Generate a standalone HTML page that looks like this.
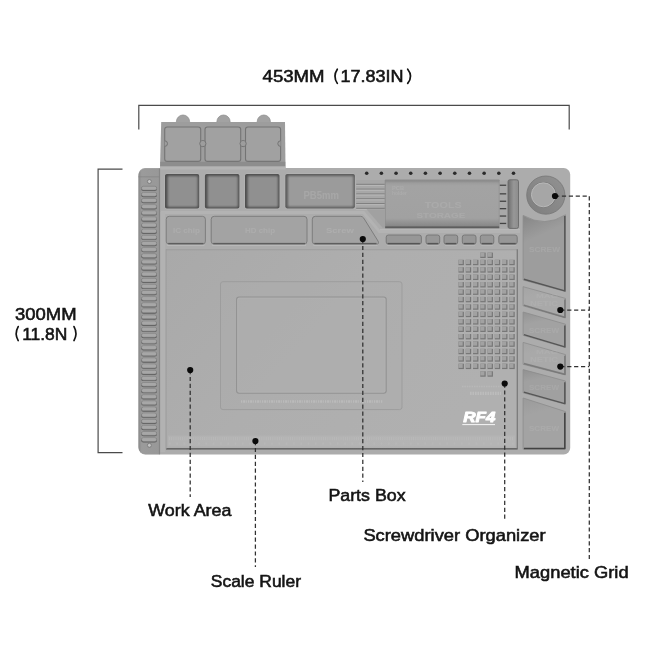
<!DOCTYPE html>
<html><head><meta charset="utf-8"><title>Mat diagram</title>
<style>
html,body{margin:0;padding:0;background:#fff;}
body{width:650px;height:650px;overflow:hidden;font-family:"Liberation Sans",sans-serif;}
svg{display:block;}
</style></head><body>
<svg width="650" height="650" viewBox="0 0 650 650" style="opacity:0.999">
<defs>
<linearGradient id="gBox" x1="0" y1="0" x2="0" y2="1"><stop offset="0" stop-color="#7c7c7c"/><stop offset="0.18" stop-color="#8a8a8a"/><stop offset="1" stop-color="#8f8f8f"/></linearGradient>
<linearGradient id="gWork" x1="0" y1="0" x2="1" y2="0.5"><stop offset="0" stop-color="#a9a9a9"/><stop offset="0.5" stop-color="#aeaeae"/><stop offset="1" stop-color="#b0b0b0"/></linearGradient>
<linearGradient id="gSlotD" x1="0" y1="0" x2="0" y2="1"><stop offset="0" stop-color="#8b8b8b"/><stop offset="0.2" stop-color="#989898"/><stop offset="1" stop-color="#a5a5a5"/></linearGradient>
<linearGradient id="gSlotL" x1="0" y1="0" x2="0" y2="1"><stop offset="0" stop-color="#a0a0a0"/><stop offset="1" stop-color="#aaaaaa"/></linearGradient>
<linearGradient id="gStrip" x1="0" y1="0" x2="1" y2="0"><stop offset="0" stop-color="#888888"/><stop offset="0.15" stop-color="#9b9b9b"/><stop offset="1" stop-color="#989898"/></linearGradient>
<filter id="blur0" x="-5%" y="-20%" width="110%" height="140%"><feGaussianBlur stdDeviation="0.45"/></filter>
<filter id="blur1" x="-10%" y="-10%" width="120%" height="120%"><feGaussianBlur stdDeviation="1.0"/></filter>
<linearGradient id="gNarrow" x1="0" y1="0" x2="1" y2="0"><stop offset="0" stop-color="#6e6e6e"/><stop offset="0.55" stop-color="#979797"/><stop offset="1" stop-color="#8c8c8c"/></linearGradient>
<linearGradient id="gRing" x1="1" y1="0" x2="0" y2="1"><stop offset="0" stop-color="#929292"/><stop offset="1" stop-color="#7e7e7e"/></linearGradient>
<linearGradient id="gTray" x1="0" y1="0" x2="0" y2="1"><stop offset="0" stop-color="#959595"/><stop offset="0.12" stop-color="#a3a3a3"/><stop offset="0.8" stop-color="#a1a1a1"/><stop offset="1" stop-color="#828282"/></linearGradient>
</defs>
<rect width="650" height="650" fill="#ffffff"/>
<polyline points="138.8,129.6 138.8,105.4 569.2,105.4 569.2,129.6" fill="none" stroke="#4a4a4a" stroke-width="1.2"/>
<polyline points="122.5,169.1 98.1,169.1 98.1,452.6 122.5,452.6" fill="none" stroke="#4a4a4a" stroke-width="1.2"/>
<circle cx="183.0" cy="121.6" r="6.6" fill="#a2a2a2" stroke="#8a8a8a" stroke-width="0.7"/>
<circle cx="223.5" cy="121.6" r="6.6" fill="#a2a2a2" stroke="#8a8a8a" stroke-width="0.7"/>
<circle cx="263.8" cy="121.6" r="6.6" fill="#a2a2a2" stroke="#8a8a8a" stroke-width="0.7"/>
<path d="M161.2,122 L285,122 L285.5,168 L160,168 Z" fill="#9d9d9d"/>
<rect x="164.7" y="127" width="36.0" height="34.4" rx="2.5" fill="#a1a1a1" stroke="#747474" stroke-width="1.1"/>
<rect x="205.0" y="127" width="35.7" height="34.4" rx="2.5" fill="#a1a1a1" stroke="#747474" stroke-width="1.1"/>
<rect x="245.5" y="127" width="35.1" height="34.4" rx="2.5" fill="#a1a1a1" stroke="#747474" stroke-width="1.1"/>
<circle cx="202.85" cy="143.6" r="3.1" fill="#9d9d9d" stroke="#747474" stroke-width="1"/>
<rect x="201.45" y="141.3" width="2.8" height="4.6" fill="#9d9d9d"/>
<circle cx="243.1" cy="143.6" r="3.1" fill="#9d9d9d" stroke="#747474" stroke-width="1"/>
<rect x="241.7" y="141.3" width="2.8" height="4.6" fill="#9d9d9d"/>
<path d="M164.7,140.8 a2.8,2.8 0 0 1 0,5.6 M280.6,140.8 a2.8,2.8 0 0 0 0,5.6" fill="#9d9d9d" stroke="#747474" stroke-width="1"/>
<rect x="160.2" y="161.8" width="125.2" height="4.4" fill="#868686" opacity="0.7"/>
<rect x="138.5" y="168" width="431.7" height="286.5" rx="6.5" fill="#acacac"/>
<rect x="160" y="166.4" width="125.5" height="3.2" fill="#b4b4b4"/>
<path d="M145.5,168.5 H159.5 V454.3 H145.5 a7,7 0 0 1 -7,-7 V175.5 a7,7 0 0 1 7,-7 Z" fill="url(#gStrip)"/>
<rect x="158.9" y="168.5" width="1.2" height="285.8" fill="#868686"/>
<rect x="138.5" y="176.3" width="21" height="1" fill="#868686" opacity="0.8"/>
<rect x="141.2" y="186.60" width="15.8" height="4.4" rx="2.2" fill="#5e5e5e"/>
<rect x="141.5" y="186.20" width="15.2" height="3.9" rx="1.95" fill="#a7a7a7" stroke="#7d7d7d" stroke-width="0.5"/>
<rect x="141.2" y="192.73" width="15.8" height="4.4" rx="2.2" fill="#5e5e5e"/>
<rect x="141.5" y="192.33" width="15.2" height="3.9" rx="1.95" fill="#a7a7a7" stroke="#7d7d7d" stroke-width="0.5"/>
<rect x="141.2" y="198.86" width="15.8" height="4.4" rx="2.2" fill="#5e5e5e"/>
<rect x="141.5" y="198.46" width="15.2" height="3.9" rx="1.95" fill="#a7a7a7" stroke="#7d7d7d" stroke-width="0.5"/>
<rect x="141.2" y="205.00" width="15.8" height="4.4" rx="2.2" fill="#5e5e5e"/>
<rect x="141.5" y="204.60" width="15.2" height="3.9" rx="1.95" fill="#a7a7a7" stroke="#7d7d7d" stroke-width="0.5"/>
<rect x="141.2" y="211.13" width="15.8" height="4.4" rx="2.2" fill="#5e5e5e"/>
<rect x="141.5" y="210.73" width="15.2" height="3.9" rx="1.95" fill="#a7a7a7" stroke="#7d7d7d" stroke-width="0.5"/>
<rect x="141.2" y="217.26" width="15.8" height="4.4" rx="2.2" fill="#5e5e5e"/>
<rect x="141.5" y="216.86" width="15.2" height="3.9" rx="1.95" fill="#a7a7a7" stroke="#7d7d7d" stroke-width="0.5"/>
<rect x="141.2" y="223.39" width="15.8" height="4.4" rx="2.2" fill="#5e5e5e"/>
<rect x="141.5" y="222.99" width="15.2" height="3.9" rx="1.95" fill="#a7a7a7" stroke="#7d7d7d" stroke-width="0.5"/>
<rect x="141.2" y="229.52" width="15.8" height="4.4" rx="2.2" fill="#5e5e5e"/>
<rect x="141.5" y="229.12" width="15.2" height="3.9" rx="1.95" fill="#a7a7a7" stroke="#7d7d7d" stroke-width="0.5"/>
<rect x="141.2" y="235.65" width="15.8" height="4.4" rx="2.2" fill="#5e5e5e"/>
<rect x="141.5" y="235.25" width="15.2" height="3.9" rx="1.95" fill="#a7a7a7" stroke="#7d7d7d" stroke-width="0.5"/>
<rect x="141.2" y="241.79" width="15.8" height="4.4" rx="2.2" fill="#5e5e5e"/>
<rect x="141.5" y="241.39" width="15.2" height="3.9" rx="1.95" fill="#a7a7a7" stroke="#7d7d7d" stroke-width="0.5"/>
<rect x="141.2" y="247.92" width="15.8" height="4.4" rx="2.2" fill="#5e5e5e"/>
<rect x="141.5" y="247.52" width="15.2" height="3.9" rx="1.95" fill="#a7a7a7" stroke="#7d7d7d" stroke-width="0.5"/>
<rect x="141.2" y="254.05" width="15.8" height="4.4" rx="2.2" fill="#5e5e5e"/>
<rect x="141.5" y="253.65" width="15.2" height="3.9" rx="1.95" fill="#a7a7a7" stroke="#7d7d7d" stroke-width="0.5"/>
<rect x="141.2" y="260.18" width="15.8" height="4.4" rx="2.2" fill="#5e5e5e"/>
<rect x="141.5" y="259.78" width="15.2" height="3.9" rx="1.95" fill="#a7a7a7" stroke="#7d7d7d" stroke-width="0.5"/>
<rect x="141.2" y="266.31" width="15.8" height="4.4" rx="2.2" fill="#5e5e5e"/>
<rect x="141.5" y="265.91" width="15.2" height="3.9" rx="1.95" fill="#a7a7a7" stroke="#7d7d7d" stroke-width="0.5"/>
<rect x="141.2" y="272.44" width="15.8" height="4.4" rx="2.2" fill="#5e5e5e"/>
<rect x="141.5" y="272.04" width="15.2" height="3.9" rx="1.95" fill="#a7a7a7" stroke="#7d7d7d" stroke-width="0.5"/>
<rect x="141.2" y="278.58" width="15.8" height="4.4" rx="2.2" fill="#5e5e5e"/>
<rect x="141.5" y="278.18" width="15.2" height="3.9" rx="1.95" fill="#a7a7a7" stroke="#7d7d7d" stroke-width="0.5"/>
<rect x="141.2" y="284.71" width="15.8" height="4.4" rx="2.2" fill="#5e5e5e"/>
<rect x="141.5" y="284.31" width="15.2" height="3.9" rx="1.95" fill="#a7a7a7" stroke="#7d7d7d" stroke-width="0.5"/>
<rect x="141.2" y="290.84" width="15.8" height="4.4" rx="2.2" fill="#5e5e5e"/>
<rect x="141.5" y="290.44" width="15.2" height="3.9" rx="1.95" fill="#a7a7a7" stroke="#7d7d7d" stroke-width="0.5"/>
<rect x="141.2" y="296.97" width="15.8" height="4.4" rx="2.2" fill="#5e5e5e"/>
<rect x="141.5" y="296.57" width="15.2" height="3.9" rx="1.95" fill="#a7a7a7" stroke="#7d7d7d" stroke-width="0.5"/>
<rect x="141.2" y="303.10" width="15.8" height="4.4" rx="2.2" fill="#5e5e5e"/>
<rect x="141.5" y="302.70" width="15.2" height="3.9" rx="1.95" fill="#a7a7a7" stroke="#7d7d7d" stroke-width="0.5"/>
<rect x="141.2" y="309.23" width="15.8" height="4.4" rx="2.2" fill="#5e5e5e"/>
<rect x="141.5" y="308.83" width="15.2" height="3.9" rx="1.95" fill="#a7a7a7" stroke="#7d7d7d" stroke-width="0.5"/>
<rect x="141.2" y="315.37" width="15.8" height="4.4" rx="2.2" fill="#5e5e5e"/>
<rect x="141.5" y="314.97" width="15.2" height="3.9" rx="1.95" fill="#a7a7a7" stroke="#7d7d7d" stroke-width="0.5"/>
<rect x="141.2" y="321.50" width="15.8" height="4.4" rx="2.2" fill="#5e5e5e"/>
<rect x="141.5" y="321.10" width="15.2" height="3.9" rx="1.95" fill="#a7a7a7" stroke="#7d7d7d" stroke-width="0.5"/>
<rect x="141.2" y="327.63" width="15.8" height="4.4" rx="2.2" fill="#5e5e5e"/>
<rect x="141.5" y="327.23" width="15.2" height="3.9" rx="1.95" fill="#a7a7a7" stroke="#7d7d7d" stroke-width="0.5"/>
<rect x="141.2" y="333.76" width="15.8" height="4.4" rx="2.2" fill="#5e5e5e"/>
<rect x="141.5" y="333.36" width="15.2" height="3.9" rx="1.95" fill="#a7a7a7" stroke="#7d7d7d" stroke-width="0.5"/>
<rect x="141.2" y="339.89" width="15.8" height="4.4" rx="2.2" fill="#5e5e5e"/>
<rect x="141.5" y="339.49" width="15.2" height="3.9" rx="1.95" fill="#a7a7a7" stroke="#7d7d7d" stroke-width="0.5"/>
<rect x="141.2" y="346.02" width="15.8" height="4.4" rx="2.2" fill="#5e5e5e"/>
<rect x="141.5" y="345.62" width="15.2" height="3.9" rx="1.95" fill="#a7a7a7" stroke="#7d7d7d" stroke-width="0.5"/>
<rect x="141.2" y="352.16" width="15.8" height="4.4" rx="2.2" fill="#5e5e5e"/>
<rect x="141.5" y="351.76" width="15.2" height="3.9" rx="1.95" fill="#a7a7a7" stroke="#7d7d7d" stroke-width="0.5"/>
<rect x="141.2" y="358.29" width="15.8" height="4.4" rx="2.2" fill="#5e5e5e"/>
<rect x="141.5" y="357.89" width="15.2" height="3.9" rx="1.95" fill="#a7a7a7" stroke="#7d7d7d" stroke-width="0.5"/>
<rect x="141.2" y="364.42" width="15.8" height="4.4" rx="2.2" fill="#5e5e5e"/>
<rect x="141.5" y="364.02" width="15.2" height="3.9" rx="1.95" fill="#a7a7a7" stroke="#7d7d7d" stroke-width="0.5"/>
<rect x="141.2" y="370.55" width="15.8" height="4.4" rx="2.2" fill="#5e5e5e"/>
<rect x="141.5" y="370.15" width="15.2" height="3.9" rx="1.95" fill="#a7a7a7" stroke="#7d7d7d" stroke-width="0.5"/>
<rect x="141.2" y="376.68" width="15.8" height="4.4" rx="2.2" fill="#5e5e5e"/>
<rect x="141.5" y="376.28" width="15.2" height="3.9" rx="1.95" fill="#a7a7a7" stroke="#7d7d7d" stroke-width="0.5"/>
<rect x="141.2" y="382.81" width="15.8" height="4.4" rx="2.2" fill="#5e5e5e"/>
<rect x="141.5" y="382.41" width="15.2" height="3.9" rx="1.95" fill="#a7a7a7" stroke="#7d7d7d" stroke-width="0.5"/>
<rect x="141.2" y="388.95" width="15.8" height="4.4" rx="2.2" fill="#5e5e5e"/>
<rect x="141.5" y="388.55" width="15.2" height="3.9" rx="1.95" fill="#a7a7a7" stroke="#7d7d7d" stroke-width="0.5"/>
<rect x="141.2" y="395.08" width="15.8" height="4.4" rx="2.2" fill="#5e5e5e"/>
<rect x="141.5" y="394.68" width="15.2" height="3.9" rx="1.95" fill="#a7a7a7" stroke="#7d7d7d" stroke-width="0.5"/>
<rect x="141.2" y="401.21" width="15.8" height="4.4" rx="2.2" fill="#5e5e5e"/>
<rect x="141.5" y="400.81" width="15.2" height="3.9" rx="1.95" fill="#a7a7a7" stroke="#7d7d7d" stroke-width="0.5"/>
<rect x="141.2" y="407.34" width="15.8" height="4.4" rx="2.2" fill="#5e5e5e"/>
<rect x="141.5" y="406.94" width="15.2" height="3.9" rx="1.95" fill="#a7a7a7" stroke="#7d7d7d" stroke-width="0.5"/>
<rect x="141.2" y="413.47" width="15.8" height="4.4" rx="2.2" fill="#5e5e5e"/>
<rect x="141.5" y="413.07" width="15.2" height="3.9" rx="1.95" fill="#a7a7a7" stroke="#7d7d7d" stroke-width="0.5"/>
<rect x="141.2" y="419.60" width="15.8" height="4.4" rx="2.2" fill="#5e5e5e"/>
<rect x="141.5" y="419.20" width="15.2" height="3.9" rx="1.95" fill="#a7a7a7" stroke="#7d7d7d" stroke-width="0.5"/>
<rect x="141.2" y="425.74" width="15.8" height="4.4" rx="2.2" fill="#5e5e5e"/>
<rect x="141.5" y="425.34" width="15.2" height="3.9" rx="1.95" fill="#a7a7a7" stroke="#7d7d7d" stroke-width="0.5"/>
<rect x="141.2" y="431.87" width="15.8" height="4.4" rx="2.2" fill="#5e5e5e"/>
<rect x="141.5" y="431.47" width="15.2" height="3.9" rx="1.95" fill="#a7a7a7" stroke="#7d7d7d" stroke-width="0.5"/>
<rect x="141.2" y="438.00" width="15.8" height="4.4" rx="2.2" fill="#5e5e5e"/>
<rect x="141.5" y="437.60" width="15.2" height="3.9" rx="1.95" fill="#a7a7a7" stroke="#7d7d7d" stroke-width="0.5"/>
<circle cx="149.4" cy="181.5" r="2" fill="#c4c4c4" stroke="#7a7a7a" stroke-width="0.9"/>
<circle cx="149.4" cy="445.3" r="2" fill="#c4c4c4" stroke="#7a7a7a" stroke-width="0.9"/>
<rect x="164.4" y="173.4" width="35.40" height="35.80" rx="2.4" fill="#b6b6b6"/>
<rect x="165" y="174" width="34.20" height="34.60" rx="1.8" fill="#4e4e4e"/>
<rect x="167.60" y="176.00" width="30.10" height="30.90" rx="1" fill="#909090" filter="url(#blur1)"/>
<rect x="204.3" y="173.4" width="35.70" height="35.80" rx="2.4" fill="#b6b6b6"/>
<rect x="204.9" y="174" width="34.50" height="34.60" rx="1.8" fill="#4e4e4e"/>
<rect x="207.50" y="176.00" width="30.40" height="30.90" rx="1" fill="#909090" filter="url(#blur1)"/>
<rect x="244.4" y="173.4" width="35.70" height="35.80" rx="2.4" fill="#b6b6b6"/>
<rect x="245" y="174" width="34.50" height="34.60" rx="1.8" fill="#4e4e4e"/>
<rect x="247.60" y="176.00" width="30.40" height="30.90" rx="1" fill="#909090" filter="url(#blur1)"/>
<rect x="284.7" y="173.4" width="70.80" height="35.60" rx="2.4" fill="#b6b6b6"/>
<rect x="285.3" y="174" width="69.60" height="34.40" rx="1.8" fill="#5c5c5c"/>
<rect x="287.90" y="176.00" width="65.50" height="30.70" rx="1" fill="#9b9b9b" filter="url(#blur1)"/>
<circle cx="366.70" cy="173.2" r="1.8" fill="#2a2a2a"/>
<circle cx="381.38" cy="173.2" r="1.8" fill="#2a2a2a"/>
<circle cx="396.06" cy="173.2" r="1.8" fill="#2a2a2a"/>
<circle cx="410.74" cy="173.2" r="1.8" fill="#2a2a2a"/>
<circle cx="425.42" cy="173.2" r="1.8" fill="#2a2a2a"/>
<circle cx="440.10" cy="173.2" r="1.8" fill="#2a2a2a"/>
<circle cx="454.78" cy="173.2" r="1.8" fill="#2a2a2a"/>
<circle cx="469.46" cy="173.2" r="1.8" fill="#2a2a2a"/>
<circle cx="484.14" cy="173.2" r="1.8" fill="#2a2a2a"/>
<circle cx="498.82" cy="173.2" r="1.8" fill="#2a2a2a"/>
<circle cx="513.50" cy="173.2" r="1.8" fill="#2a2a2a"/>
<rect x="356.2" y="180" width="28.6" height="29.2" fill="#a7a7a7"/>
<rect x="356.2" y="183.80" width="28.6" height="1.1" fill="#808080"/>
<rect x="356.2" y="184.90" width="28.6" height="1.1" fill="#b7b7b7"/>
<rect x="356.2" y="188.60" width="28.6" height="1.1" fill="#808080"/>
<rect x="356.2" y="189.70" width="28.6" height="1.1" fill="#b7b7b7"/>
<rect x="356.2" y="193.40" width="28.6" height="1.1" fill="#808080"/>
<rect x="356.2" y="194.50" width="28.6" height="1.1" fill="#b7b7b7"/>
<rect x="356.2" y="198.20" width="28.6" height="1.1" fill="#808080"/>
<rect x="356.2" y="199.30" width="28.6" height="1.1" fill="#b7b7b7"/>
<rect x="356.2" y="203.00" width="28.6" height="1.1" fill="#808080"/>
<rect x="356.2" y="204.10" width="28.6" height="1.1" fill="#b7b7b7"/>
<rect x="356.2" y="207.80" width="28.6" height="1.1" fill="#808080"/>
<rect x="356.2" y="208.90" width="28.6" height="1.1" fill="#b7b7b7"/>
<path d="M385.2,180 H499.3 V227.7 H385.2 Z" fill="url(#gTray)" stroke="#8a8a8a" stroke-width="0.9"/>
<rect x="385.2" y="180" width="114" height="2.2" fill="#8a8a8a" opacity="0.6"/>
<rect x="385.2" y="226.4" width="114" height="1.8" fill="#595959" opacity="0.9"/>
<rect x="380" y="229" width="140" height="1.2" fill="#b8b8b8"/>
<rect x="499.6" y="180.5" width="7.8" height="47" fill="#a8a8a8"/>
<rect x="499.8" y="184.60" width="6.4" height="1.3" fill="#444"/>
<rect x="499.8" y="193.20" width="6.4" height="1.3" fill="#444"/>
<rect x="499.8" y="200.60" width="6.4" height="1.3" fill="#444"/>
<rect x="499.8" y="208.00" width="6.4" height="1.3" fill="#444"/>
<rect x="499.8" y="215.40" width="6.4" height="1.3" fill="#444"/>
<rect x="499.8" y="222.80" width="6.4" height="1.3" fill="#444"/>
<rect x="508" y="179.8" width="10.50" height="48.60" rx="1.8" fill="url(#gNarrow)" stroke="#6a6a6a" stroke-width="0.9"/>
<path d="M366.5,209.2 H384.8 V227.7 H382.6 Z" fill="#a1a1a1"/>
<path d="M161,212.6 H363.5 L379.5,231.6 H520" fill="none" stroke="#b3b3b3" stroke-width="3"/>
<path d="M169.2,216.3 H202.4 Q205.4,216.3 205.4,219.3 V241.2 Q205.4,244.2 202.4,244.2 H169.2 Q166.2,244.2 166.2,241.2 V219.3 Q166.2,216.3 169.2,216.3 Z" fill="#a3a3a3" stroke="#787878" stroke-width="0.9"/>
<rect x="168.2" y="242.9" width="35.20" height="1.6" fill="#5e5e5e"/>
<rect x="167.2" y="244.7" width="37.20" height="1.1" fill="#bcbcbc"/>
<path d="M214.2,216.3 H304 Q307,216.3 307,219.3 V241.2 Q307,244.2 304,244.2 H214.2 Q211.2,244.2 211.2,241.2 V219.3 Q211.2,216.3 214.2,216.3 Z" fill="#a3a3a3" stroke="#787878" stroke-width="0.9"/>
<rect x="213.2" y="242.9" width="91.80" height="1.6" fill="#5e5e5e"/>
<rect x="212.2" y="244.7" width="93.80" height="1.1" fill="#bcbcbc"/>
<path d="M315.3,216.3 H360.5 Q362.5,216.3 363.8,218.2 L378,241 Q379.6,244.2 376.5,244.2 H315.3 Q312.3,244.2 312.3,241.2 V219.3 Q312.3,216.3 315.3,216.3 Z" fill="#a3a3a3" stroke="#787878" stroke-width="0.9"/>
<rect x="314.3" y="242.9" width="62.20" height="1.6" fill="#5e5e5e"/>
<rect x="313.3" y="244.7" width="64.20" height="1.1" fill="#bcbcbc"/>
<rect x="386.2" y="235" width="35.20" height="9.20" rx="2.2" fill="#979797" stroke="#747474" stroke-width="0.9"/>
<rect x="387.7" y="242.9" width="32.20" height="1.5" fill="#555555"/>
<rect x="387.2" y="244.8" width="33.20" height="1" fill="#b9b9b9"/>
<rect x="426" y="235" width="13.70" height="9.20" rx="2.2" fill="#979797" stroke="#747474" stroke-width="0.9"/>
<rect x="427.5" y="242.9" width="10.70" height="1.5" fill="#555555"/>
<rect x="427" y="244.8" width="11.70" height="1" fill="#b9b9b9"/>
<rect x="444" y="235" width="13.70" height="9.20" rx="2.2" fill="#979797" stroke="#747474" stroke-width="0.9"/>
<rect x="445.5" y="242.9" width="10.70" height="1.5" fill="#555555"/>
<rect x="445" y="244.8" width="11.70" height="1" fill="#b9b9b9"/>
<rect x="462.3" y="235" width="13.70" height="9.20" rx="2.2" fill="#979797" stroke="#747474" stroke-width="0.9"/>
<rect x="463.8" y="242.9" width="10.70" height="1.5" fill="#555555"/>
<rect x="463.3" y="244.8" width="11.70" height="1" fill="#b9b9b9"/>
<rect x="480.3" y="235" width="13.50" height="9.20" rx="2.2" fill="#979797" stroke="#747474" stroke-width="0.9"/>
<rect x="481.8" y="242.9" width="10.50" height="1.5" fill="#555555"/>
<rect x="481.3" y="244.8" width="11.50" height="1" fill="#b9b9b9"/>
<rect x="498.8" y="235" width="18.40" height="9.20" rx="2.2" fill="#979797" stroke="#747474" stroke-width="0.9"/>
<rect x="500.3" y="242.9" width="15.40" height="1.5" fill="#555555"/>
<rect x="499.8" y="244.8" width="16.40" height="1" fill="#b9b9b9"/>
<rect x="166" y="249.3" width="351.5" height="199.9" rx="1.5" fill="url(#gWork)"/>
<rect x="166" y="249.3" width="351.5" height="0.9" fill="#999999" opacity="0.8"/>
<rect x="166" y="448.2" width="351.5" height="1.3" fill="#555555"/>
<rect x="516.7" y="249.3" width="1.1" height="199.9" fill="#727272"/>
<rect x="165.6" y="249.3" width="0.9" height="199.9" fill="#999999"/>
<rect x="160.6" y="212" width="4.6" height="240" fill="#b2b2b2"/>
<rect x="220.5" y="281.7" width="181.5" height="127.9" rx="2.5" fill="#adadad" fill-opacity="0.35" stroke="#9d9d9d" stroke-width="1"/>
<rect x="237.6" y="298.0" width="147.6" height="94.2" rx="2" fill="none" stroke="#b7b7b7" stroke-width="0.9"/>
<rect x="236.6" y="297.0" width="149.6" height="96.2" rx="2.5" fill="#b0b0b0" fill-opacity="0.4" stroke="#929292" stroke-width="1.1"/>
<line x1="241" y1="401.5" x2="383" y2="401.5" stroke="#c0c0c0" stroke-width="2.6" stroke-dasharray="1.2 0.9 2.2 0.8 0.8 1.1" opacity="0.75"/>
<rect x="168" y="435.5" width="347" height="11" fill="#b8b8b8" opacity="0.5"/>
<line x1="169" y1="438.6" x2="514" y2="438.6" stroke="#c2c2c2" stroke-width="3.4" stroke-dasharray="0.8 1.4" opacity="0.4"/>
<line x1="169" y1="443.6" x2="514" y2="443.6" stroke="#bdbdbd" stroke-width="2.2" stroke-dasharray="1.6 5.7" opacity="0.4"/>
<rect x="480.28" y="252.60" width="5.4" height="5.4" fill="#777777"/>
<rect x="480.28" y="252.60" width="4.2" height="4.2" fill="#a2a2a2"/>
<rect x="480.28" y="371.30" width="5.4" height="5.4" fill="#777777"/>
<rect x="480.28" y="371.30" width="4.2" height="4.2" fill="#a2a2a2"/>
<rect x="487.54" y="252.60" width="5.4" height="5.4" fill="#777777"/>
<rect x="487.54" y="252.60" width="4.2" height="4.2" fill="#a2a2a2"/>
<rect x="487.54" y="371.30" width="5.4" height="5.4" fill="#777777"/>
<rect x="487.54" y="371.30" width="4.2" height="4.2" fill="#a2a2a2"/>
<rect x="458.50" y="259.80" width="5.4" height="5.4" fill="#777777"/>
<rect x="458.50" y="259.80" width="4.2" height="4.2" fill="#a2a2a2"/>
<rect x="465.76" y="259.80" width="5.4" height="5.4" fill="#777777"/>
<rect x="465.76" y="259.80" width="4.2" height="4.2" fill="#a2a2a2"/>
<rect x="473.02" y="259.80" width="5.4" height="5.4" fill="#777777"/>
<rect x="473.02" y="259.80" width="4.2" height="4.2" fill="#a2a2a2"/>
<rect x="480.28" y="259.80" width="5.4" height="5.4" fill="#777777"/>
<rect x="480.28" y="259.80" width="4.2" height="4.2" fill="#a2a2a2"/>
<rect x="487.54" y="259.80" width="5.4" height="5.4" fill="#777777"/>
<rect x="487.54" y="259.80" width="4.2" height="4.2" fill="#a2a2a2"/>
<rect x="494.80" y="259.80" width="5.4" height="5.4" fill="#777777"/>
<rect x="494.80" y="259.80" width="4.2" height="4.2" fill="#a2a2a2"/>
<rect x="502.06" y="259.80" width="5.4" height="5.4" fill="#777777"/>
<rect x="502.06" y="259.80" width="4.2" height="4.2" fill="#a2a2a2"/>
<rect x="509.32" y="259.80" width="5.4" height="5.4" fill="#777777"/>
<rect x="509.32" y="259.80" width="4.2" height="4.2" fill="#a2a2a2"/>
<rect x="458.50" y="267.22" width="5.4" height="5.4" fill="#777777"/>
<rect x="458.50" y="267.22" width="4.2" height="4.2" fill="#a2a2a2"/>
<rect x="465.76" y="267.22" width="5.4" height="5.4" fill="#777777"/>
<rect x="465.76" y="267.22" width="4.2" height="4.2" fill="#a2a2a2"/>
<rect x="473.02" y="267.22" width="5.4" height="5.4" fill="#777777"/>
<rect x="473.02" y="267.22" width="4.2" height="4.2" fill="#a2a2a2"/>
<rect x="480.28" y="267.22" width="5.4" height="5.4" fill="#777777"/>
<rect x="480.28" y="267.22" width="4.2" height="4.2" fill="#a2a2a2"/>
<rect x="487.54" y="267.22" width="5.4" height="5.4" fill="#777777"/>
<rect x="487.54" y="267.22" width="4.2" height="4.2" fill="#a2a2a2"/>
<rect x="494.80" y="267.22" width="5.4" height="5.4" fill="#777777"/>
<rect x="494.80" y="267.22" width="4.2" height="4.2" fill="#a2a2a2"/>
<rect x="502.06" y="267.22" width="5.4" height="5.4" fill="#777777"/>
<rect x="502.06" y="267.22" width="4.2" height="4.2" fill="#a2a2a2"/>
<rect x="509.32" y="267.22" width="5.4" height="5.4" fill="#777777"/>
<rect x="509.32" y="267.22" width="4.2" height="4.2" fill="#a2a2a2"/>
<rect x="458.50" y="274.64" width="5.4" height="5.4" fill="#777777"/>
<rect x="458.50" y="274.64" width="4.2" height="4.2" fill="#a2a2a2"/>
<rect x="465.76" y="274.64" width="5.4" height="5.4" fill="#777777"/>
<rect x="465.76" y="274.64" width="4.2" height="4.2" fill="#a2a2a2"/>
<rect x="473.02" y="274.64" width="5.4" height="5.4" fill="#777777"/>
<rect x="473.02" y="274.64" width="4.2" height="4.2" fill="#a2a2a2"/>
<rect x="480.28" y="274.64" width="5.4" height="5.4" fill="#777777"/>
<rect x="480.28" y="274.64" width="4.2" height="4.2" fill="#a2a2a2"/>
<rect x="487.54" y="274.64" width="5.4" height="5.4" fill="#777777"/>
<rect x="487.54" y="274.64" width="4.2" height="4.2" fill="#a2a2a2"/>
<rect x="494.80" y="274.64" width="5.4" height="5.4" fill="#777777"/>
<rect x="494.80" y="274.64" width="4.2" height="4.2" fill="#a2a2a2"/>
<rect x="502.06" y="274.64" width="5.4" height="5.4" fill="#777777"/>
<rect x="502.06" y="274.64" width="4.2" height="4.2" fill="#a2a2a2"/>
<rect x="509.32" y="274.64" width="5.4" height="5.4" fill="#777777"/>
<rect x="509.32" y="274.64" width="4.2" height="4.2" fill="#a2a2a2"/>
<rect x="458.50" y="282.06" width="5.4" height="5.4" fill="#777777"/>
<rect x="458.50" y="282.06" width="4.2" height="4.2" fill="#a2a2a2"/>
<rect x="465.76" y="282.06" width="5.4" height="5.4" fill="#777777"/>
<rect x="465.76" y="282.06" width="4.2" height="4.2" fill="#a2a2a2"/>
<rect x="473.02" y="282.06" width="5.4" height="5.4" fill="#777777"/>
<rect x="473.02" y="282.06" width="4.2" height="4.2" fill="#a2a2a2"/>
<rect x="480.28" y="282.06" width="5.4" height="5.4" fill="#777777"/>
<rect x="480.28" y="282.06" width="4.2" height="4.2" fill="#a2a2a2"/>
<rect x="487.54" y="282.06" width="5.4" height="5.4" fill="#777777"/>
<rect x="487.54" y="282.06" width="4.2" height="4.2" fill="#a2a2a2"/>
<rect x="494.80" y="282.06" width="5.4" height="5.4" fill="#777777"/>
<rect x="494.80" y="282.06" width="4.2" height="4.2" fill="#a2a2a2"/>
<rect x="502.06" y="282.06" width="5.4" height="5.4" fill="#777777"/>
<rect x="502.06" y="282.06" width="4.2" height="4.2" fill="#a2a2a2"/>
<rect x="509.32" y="282.06" width="5.4" height="5.4" fill="#777777"/>
<rect x="509.32" y="282.06" width="4.2" height="4.2" fill="#a2a2a2"/>
<rect x="458.50" y="289.48" width="5.4" height="5.4" fill="#777777"/>
<rect x="458.50" y="289.48" width="4.2" height="4.2" fill="#a2a2a2"/>
<rect x="465.76" y="289.48" width="5.4" height="5.4" fill="#777777"/>
<rect x="465.76" y="289.48" width="4.2" height="4.2" fill="#a2a2a2"/>
<rect x="473.02" y="289.48" width="5.4" height="5.4" fill="#777777"/>
<rect x="473.02" y="289.48" width="4.2" height="4.2" fill="#a2a2a2"/>
<rect x="480.28" y="289.48" width="5.4" height="5.4" fill="#777777"/>
<rect x="480.28" y="289.48" width="4.2" height="4.2" fill="#a2a2a2"/>
<rect x="487.54" y="289.48" width="5.4" height="5.4" fill="#777777"/>
<rect x="487.54" y="289.48" width="4.2" height="4.2" fill="#a2a2a2"/>
<rect x="494.80" y="289.48" width="5.4" height="5.4" fill="#777777"/>
<rect x="494.80" y="289.48" width="4.2" height="4.2" fill="#a2a2a2"/>
<rect x="502.06" y="289.48" width="5.4" height="5.4" fill="#777777"/>
<rect x="502.06" y="289.48" width="4.2" height="4.2" fill="#a2a2a2"/>
<rect x="509.32" y="289.48" width="5.4" height="5.4" fill="#777777"/>
<rect x="509.32" y="289.48" width="4.2" height="4.2" fill="#a2a2a2"/>
<rect x="458.50" y="296.90" width="5.4" height="5.4" fill="#777777"/>
<rect x="458.50" y="296.90" width="4.2" height="4.2" fill="#a2a2a2"/>
<rect x="465.76" y="296.90" width="5.4" height="5.4" fill="#777777"/>
<rect x="465.76" y="296.90" width="4.2" height="4.2" fill="#a2a2a2"/>
<rect x="473.02" y="296.90" width="5.4" height="5.4" fill="#777777"/>
<rect x="473.02" y="296.90" width="4.2" height="4.2" fill="#a2a2a2"/>
<rect x="480.28" y="296.90" width="5.4" height="5.4" fill="#777777"/>
<rect x="480.28" y="296.90" width="4.2" height="4.2" fill="#a2a2a2"/>
<rect x="487.54" y="296.90" width="5.4" height="5.4" fill="#777777"/>
<rect x="487.54" y="296.90" width="4.2" height="4.2" fill="#a2a2a2"/>
<rect x="494.80" y="296.90" width="5.4" height="5.4" fill="#777777"/>
<rect x="494.80" y="296.90" width="4.2" height="4.2" fill="#a2a2a2"/>
<rect x="502.06" y="296.90" width="5.4" height="5.4" fill="#777777"/>
<rect x="502.06" y="296.90" width="4.2" height="4.2" fill="#a2a2a2"/>
<rect x="509.32" y="296.90" width="5.4" height="5.4" fill="#777777"/>
<rect x="509.32" y="296.90" width="4.2" height="4.2" fill="#a2a2a2"/>
<rect x="458.50" y="304.32" width="5.4" height="5.4" fill="#777777"/>
<rect x="458.50" y="304.32" width="4.2" height="4.2" fill="#a2a2a2"/>
<rect x="465.76" y="304.32" width="5.4" height="5.4" fill="#777777"/>
<rect x="465.76" y="304.32" width="4.2" height="4.2" fill="#a2a2a2"/>
<rect x="473.02" y="304.32" width="5.4" height="5.4" fill="#777777"/>
<rect x="473.02" y="304.32" width="4.2" height="4.2" fill="#a2a2a2"/>
<rect x="480.28" y="304.32" width="5.4" height="5.4" fill="#777777"/>
<rect x="480.28" y="304.32" width="4.2" height="4.2" fill="#a2a2a2"/>
<rect x="487.54" y="304.32" width="5.4" height="5.4" fill="#777777"/>
<rect x="487.54" y="304.32" width="4.2" height="4.2" fill="#a2a2a2"/>
<rect x="494.80" y="304.32" width="5.4" height="5.4" fill="#777777"/>
<rect x="494.80" y="304.32" width="4.2" height="4.2" fill="#a2a2a2"/>
<rect x="502.06" y="304.32" width="5.4" height="5.4" fill="#777777"/>
<rect x="502.06" y="304.32" width="4.2" height="4.2" fill="#a2a2a2"/>
<rect x="509.32" y="304.32" width="5.4" height="5.4" fill="#777777"/>
<rect x="509.32" y="304.32" width="4.2" height="4.2" fill="#a2a2a2"/>
<rect x="458.50" y="311.74" width="5.4" height="5.4" fill="#777777"/>
<rect x="458.50" y="311.74" width="4.2" height="4.2" fill="#a2a2a2"/>
<rect x="465.76" y="311.74" width="5.4" height="5.4" fill="#777777"/>
<rect x="465.76" y="311.74" width="4.2" height="4.2" fill="#a2a2a2"/>
<rect x="473.02" y="311.74" width="5.4" height="5.4" fill="#777777"/>
<rect x="473.02" y="311.74" width="4.2" height="4.2" fill="#a2a2a2"/>
<rect x="480.28" y="311.74" width="5.4" height="5.4" fill="#777777"/>
<rect x="480.28" y="311.74" width="4.2" height="4.2" fill="#a2a2a2"/>
<rect x="487.54" y="311.74" width="5.4" height="5.4" fill="#777777"/>
<rect x="487.54" y="311.74" width="4.2" height="4.2" fill="#a2a2a2"/>
<rect x="494.80" y="311.74" width="5.4" height="5.4" fill="#777777"/>
<rect x="494.80" y="311.74" width="4.2" height="4.2" fill="#a2a2a2"/>
<rect x="502.06" y="311.74" width="5.4" height="5.4" fill="#777777"/>
<rect x="502.06" y="311.74" width="4.2" height="4.2" fill="#a2a2a2"/>
<rect x="509.32" y="311.74" width="5.4" height="5.4" fill="#777777"/>
<rect x="509.32" y="311.74" width="4.2" height="4.2" fill="#a2a2a2"/>
<rect x="458.50" y="319.16" width="5.4" height="5.4" fill="#777777"/>
<rect x="458.50" y="319.16" width="4.2" height="4.2" fill="#a2a2a2"/>
<rect x="465.76" y="319.16" width="5.4" height="5.4" fill="#777777"/>
<rect x="465.76" y="319.16" width="4.2" height="4.2" fill="#a2a2a2"/>
<rect x="473.02" y="319.16" width="5.4" height="5.4" fill="#777777"/>
<rect x="473.02" y="319.16" width="4.2" height="4.2" fill="#a2a2a2"/>
<rect x="480.28" y="319.16" width="5.4" height="5.4" fill="#777777"/>
<rect x="480.28" y="319.16" width="4.2" height="4.2" fill="#a2a2a2"/>
<rect x="487.54" y="319.16" width="5.4" height="5.4" fill="#777777"/>
<rect x="487.54" y="319.16" width="4.2" height="4.2" fill="#a2a2a2"/>
<rect x="494.80" y="319.16" width="5.4" height="5.4" fill="#777777"/>
<rect x="494.80" y="319.16" width="4.2" height="4.2" fill="#a2a2a2"/>
<rect x="502.06" y="319.16" width="5.4" height="5.4" fill="#777777"/>
<rect x="502.06" y="319.16" width="4.2" height="4.2" fill="#a2a2a2"/>
<rect x="509.32" y="319.16" width="5.4" height="5.4" fill="#777777"/>
<rect x="509.32" y="319.16" width="4.2" height="4.2" fill="#a2a2a2"/>
<rect x="458.50" y="326.58" width="5.4" height="5.4" fill="#777777"/>
<rect x="458.50" y="326.58" width="4.2" height="4.2" fill="#a2a2a2"/>
<rect x="465.76" y="326.58" width="5.4" height="5.4" fill="#777777"/>
<rect x="465.76" y="326.58" width="4.2" height="4.2" fill="#a2a2a2"/>
<rect x="473.02" y="326.58" width="5.4" height="5.4" fill="#777777"/>
<rect x="473.02" y="326.58" width="4.2" height="4.2" fill="#a2a2a2"/>
<rect x="480.28" y="326.58" width="5.4" height="5.4" fill="#777777"/>
<rect x="480.28" y="326.58" width="4.2" height="4.2" fill="#a2a2a2"/>
<rect x="487.54" y="326.58" width="5.4" height="5.4" fill="#777777"/>
<rect x="487.54" y="326.58" width="4.2" height="4.2" fill="#a2a2a2"/>
<rect x="494.80" y="326.58" width="5.4" height="5.4" fill="#777777"/>
<rect x="494.80" y="326.58" width="4.2" height="4.2" fill="#a2a2a2"/>
<rect x="502.06" y="326.58" width="5.4" height="5.4" fill="#777777"/>
<rect x="502.06" y="326.58" width="4.2" height="4.2" fill="#a2a2a2"/>
<rect x="509.32" y="326.58" width="5.4" height="5.4" fill="#777777"/>
<rect x="509.32" y="326.58" width="4.2" height="4.2" fill="#a2a2a2"/>
<rect x="458.50" y="334.00" width="5.4" height="5.4" fill="#777777"/>
<rect x="458.50" y="334.00" width="4.2" height="4.2" fill="#a2a2a2"/>
<rect x="465.76" y="334.00" width="5.4" height="5.4" fill="#777777"/>
<rect x="465.76" y="334.00" width="4.2" height="4.2" fill="#a2a2a2"/>
<rect x="473.02" y="334.00" width="5.4" height="5.4" fill="#777777"/>
<rect x="473.02" y="334.00" width="4.2" height="4.2" fill="#a2a2a2"/>
<rect x="480.28" y="334.00" width="5.4" height="5.4" fill="#777777"/>
<rect x="480.28" y="334.00" width="4.2" height="4.2" fill="#a2a2a2"/>
<rect x="487.54" y="334.00" width="5.4" height="5.4" fill="#777777"/>
<rect x="487.54" y="334.00" width="4.2" height="4.2" fill="#a2a2a2"/>
<rect x="494.80" y="334.00" width="5.4" height="5.4" fill="#777777"/>
<rect x="494.80" y="334.00" width="4.2" height="4.2" fill="#a2a2a2"/>
<rect x="502.06" y="334.00" width="5.4" height="5.4" fill="#777777"/>
<rect x="502.06" y="334.00" width="4.2" height="4.2" fill="#a2a2a2"/>
<rect x="509.32" y="334.00" width="5.4" height="5.4" fill="#777777"/>
<rect x="509.32" y="334.00" width="4.2" height="4.2" fill="#a2a2a2"/>
<rect x="458.50" y="341.42" width="5.4" height="5.4" fill="#777777"/>
<rect x="458.50" y="341.42" width="4.2" height="4.2" fill="#a2a2a2"/>
<rect x="465.76" y="341.42" width="5.4" height="5.4" fill="#777777"/>
<rect x="465.76" y="341.42" width="4.2" height="4.2" fill="#a2a2a2"/>
<rect x="473.02" y="341.42" width="5.4" height="5.4" fill="#777777"/>
<rect x="473.02" y="341.42" width="4.2" height="4.2" fill="#a2a2a2"/>
<rect x="480.28" y="341.42" width="5.4" height="5.4" fill="#777777"/>
<rect x="480.28" y="341.42" width="4.2" height="4.2" fill="#a2a2a2"/>
<rect x="487.54" y="341.42" width="5.4" height="5.4" fill="#777777"/>
<rect x="487.54" y="341.42" width="4.2" height="4.2" fill="#a2a2a2"/>
<rect x="494.80" y="341.42" width="5.4" height="5.4" fill="#777777"/>
<rect x="494.80" y="341.42" width="4.2" height="4.2" fill="#a2a2a2"/>
<rect x="502.06" y="341.42" width="5.4" height="5.4" fill="#777777"/>
<rect x="502.06" y="341.42" width="4.2" height="4.2" fill="#a2a2a2"/>
<rect x="509.32" y="341.42" width="5.4" height="5.4" fill="#777777"/>
<rect x="509.32" y="341.42" width="4.2" height="4.2" fill="#a2a2a2"/>
<rect x="458.50" y="348.84" width="5.4" height="5.4" fill="#777777"/>
<rect x="458.50" y="348.84" width="4.2" height="4.2" fill="#a2a2a2"/>
<rect x="465.76" y="348.84" width="5.4" height="5.4" fill="#777777"/>
<rect x="465.76" y="348.84" width="4.2" height="4.2" fill="#a2a2a2"/>
<rect x="473.02" y="348.84" width="5.4" height="5.4" fill="#777777"/>
<rect x="473.02" y="348.84" width="4.2" height="4.2" fill="#a2a2a2"/>
<rect x="480.28" y="348.84" width="5.4" height="5.4" fill="#777777"/>
<rect x="480.28" y="348.84" width="4.2" height="4.2" fill="#a2a2a2"/>
<rect x="487.54" y="348.84" width="5.4" height="5.4" fill="#777777"/>
<rect x="487.54" y="348.84" width="4.2" height="4.2" fill="#a2a2a2"/>
<rect x="494.80" y="348.84" width="5.4" height="5.4" fill="#777777"/>
<rect x="494.80" y="348.84" width="4.2" height="4.2" fill="#a2a2a2"/>
<rect x="502.06" y="348.84" width="5.4" height="5.4" fill="#777777"/>
<rect x="502.06" y="348.84" width="4.2" height="4.2" fill="#a2a2a2"/>
<rect x="509.32" y="348.84" width="5.4" height="5.4" fill="#777777"/>
<rect x="509.32" y="348.84" width="4.2" height="4.2" fill="#a2a2a2"/>
<rect x="458.50" y="356.26" width="5.4" height="5.4" fill="#777777"/>
<rect x="458.50" y="356.26" width="4.2" height="4.2" fill="#a2a2a2"/>
<rect x="465.76" y="356.26" width="5.4" height="5.4" fill="#777777"/>
<rect x="465.76" y="356.26" width="4.2" height="4.2" fill="#a2a2a2"/>
<rect x="473.02" y="356.26" width="5.4" height="5.4" fill="#777777"/>
<rect x="473.02" y="356.26" width="4.2" height="4.2" fill="#a2a2a2"/>
<rect x="480.28" y="356.26" width="5.4" height="5.4" fill="#777777"/>
<rect x="480.28" y="356.26" width="4.2" height="4.2" fill="#a2a2a2"/>
<rect x="487.54" y="356.26" width="5.4" height="5.4" fill="#777777"/>
<rect x="487.54" y="356.26" width="4.2" height="4.2" fill="#a2a2a2"/>
<rect x="494.80" y="356.26" width="5.4" height="5.4" fill="#777777"/>
<rect x="494.80" y="356.26" width="4.2" height="4.2" fill="#a2a2a2"/>
<rect x="502.06" y="356.26" width="5.4" height="5.4" fill="#777777"/>
<rect x="502.06" y="356.26" width="4.2" height="4.2" fill="#a2a2a2"/>
<rect x="509.32" y="356.26" width="5.4" height="5.4" fill="#777777"/>
<rect x="509.32" y="356.26" width="4.2" height="4.2" fill="#a2a2a2"/>
<rect x="458.50" y="363.68" width="5.4" height="5.4" fill="#777777"/>
<rect x="458.50" y="363.68" width="4.2" height="4.2" fill="#a2a2a2"/>
<rect x="465.76" y="363.68" width="5.4" height="5.4" fill="#777777"/>
<rect x="465.76" y="363.68" width="4.2" height="4.2" fill="#a2a2a2"/>
<rect x="473.02" y="363.68" width="5.4" height="5.4" fill="#777777"/>
<rect x="473.02" y="363.68" width="4.2" height="4.2" fill="#a2a2a2"/>
<rect x="480.28" y="363.68" width="5.4" height="5.4" fill="#777777"/>
<rect x="480.28" y="363.68" width="4.2" height="4.2" fill="#a2a2a2"/>
<rect x="487.54" y="363.68" width="5.4" height="5.4" fill="#777777"/>
<rect x="487.54" y="363.68" width="4.2" height="4.2" fill="#a2a2a2"/>
<rect x="494.80" y="363.68" width="5.4" height="5.4" fill="#777777"/>
<rect x="494.80" y="363.68" width="4.2" height="4.2" fill="#a2a2a2"/>
<rect x="502.06" y="363.68" width="5.4" height="5.4" fill="#777777"/>
<rect x="502.06" y="363.68" width="4.2" height="4.2" fill="#a2a2a2"/>
<rect x="509.32" y="363.68" width="5.4" height="5.4" fill="#777777"/>
<rect x="509.32" y="363.68" width="4.2" height="4.2" fill="#a2a2a2"/>
<line x1="462" y1="386.5" x2="501" y2="386.5" stroke="#c0c0c0" stroke-width="1.6" stroke-dasharray="1.4 1" opacity="0.55"/>
<line x1="470" y1="393.3" x2="501" y2="393.3" stroke="#c4c4c4" stroke-width="3.2" stroke-dasharray="1.6 0.9" opacity="0.6"/>
<text x="463.2" y="422" font-family="Liberation Sans, sans-serif" font-weight="bold" font-style="italic" font-size="14.8" textLength="32.2" lengthAdjust="spacingAndGlyphs" fill="#ffffff" stroke="#ffffff" stroke-width="0.9" stroke-linejoin="round">RF4</text>
<rect x="462.3" y="424.1" width="32.7" height="1" fill="#f6f6f6"/>
<linearGradient id="gs1" x1="0" y1="0" x2="0.25" y2="1"><stop offset="0" stop-color="#858585"/><stop offset="0.35" stop-color="#9d9d9d"/><stop offset="1" stop-color="#9d9d9d"/></linearGradient>
<path d="M523.1,215.4 Q545,228 565.5,214.8 L565.5,291.6 L523.1,280 Z" fill="url(#gs1)" stroke="#8c8c8c" stroke-width="0.8" stroke-linejoin="round"/>
<path d="M564.8,216.0 L564.8,290.90000000000003 L523.9,279.3" fill="none" stroke="#4a4a4a" stroke-width="1.5" opacity="0.85" stroke-linejoin="round"/>
<linearGradient id="gs2" x1="0" y1="0" x2="0.25" y2="1"><stop offset="0" stop-color="#a4a4a4"/><stop offset="0.35" stop-color="#a9a9a9"/><stop offset="1" stop-color="#a9a9a9"/></linearGradient>
<path d="M523.1,286.7 L565.5,298.4 L565.5,318 L523.1,305.8 Z" fill="url(#gs2)" stroke="#8c8c8c" stroke-width="0.8" stroke-linejoin="round"/>
<path d="M564.8,299.59999999999997 L564.8,317.3 L523.9,305.1" fill="none" stroke="#6a6a6a" stroke-width="1.5" opacity="0.7" stroke-linejoin="round"/>
<linearGradient id="gs3" x1="0" y1="0" x2="0.25" y2="1"><stop offset="0" stop-color="#939393"/><stop offset="0.35" stop-color="#a2a2a2"/><stop offset="1" stop-color="#a2a2a2"/></linearGradient>
<path d="M523.1,312 L565.5,324.2 L565.5,347.6 L523.1,335.3 Z" fill="url(#gs3)" stroke="#8c8c8c" stroke-width="0.8" stroke-linejoin="round"/>
<path d="M564.8,325.4 L564.8,346.90000000000003 L523.9,334.6" fill="none" stroke="#4a4a4a" stroke-width="1.5" opacity="0.85" stroke-linejoin="round"/>
<linearGradient id="gs4" x1="0" y1="0" x2="0.25" y2="1"><stop offset="0" stop-color="#a4a4a4"/><stop offset="0.35" stop-color="#a9a9a9"/><stop offset="1" stop-color="#a9a9a9"/></linearGradient>
<path d="M523.1,342.4 L565.5,354.6 L565.5,375 L523.1,364.3 Z" fill="url(#gs4)" stroke="#8c8c8c" stroke-width="0.8" stroke-linejoin="round"/>
<path d="M564.8,355.8 L564.8,374.3 L523.9,363.6" fill="none" stroke="#6a6a6a" stroke-width="1.5" opacity="0.7" stroke-linejoin="round"/>
<linearGradient id="gs5" x1="0" y1="0" x2="0.25" y2="1"><stop offset="0" stop-color="#919191"/><stop offset="0.35" stop-color="#a0a0a0"/><stop offset="1" stop-color="#a0a0a0"/></linearGradient>
<path d="M523.1,369.6 L565.5,381 L565.5,404.3 L523.1,392.8 Z" fill="url(#gs5)" stroke="#8c8c8c" stroke-width="0.8" stroke-linejoin="round"/>
<path d="M564.8,382.2 L564.8,403.6 L523.9,392.1" fill="none" stroke="#4a4a4a" stroke-width="1.5" opacity="0.85" stroke-linejoin="round"/>
<linearGradient id="gs6" x1="0" y1="0" x2="0.25" y2="1"><stop offset="0" stop-color="#9a9a9a"/><stop offset="0.35" stop-color="#a3a3a3"/><stop offset="1" stop-color="#a3a3a3"/></linearGradient>
<path d="M523.1,398 L565.5,411.6 L565.5,449.2 L523.1,449.2 Z" fill="url(#gs6)" stroke="#8c8c8c" stroke-width="0.8" stroke-linejoin="round"/>
<path d="M564.8,412.8 L564.8,448.5 L523.9,448.5" fill="none" stroke="#383838" stroke-width="1.5" opacity="0.9" stroke-linejoin="round"/>
<circle cx="545.8" cy="195.1" r="19.1" fill="url(#gRing)"/>
<circle cx="545.8" cy="195.1" r="19.1" fill="none" stroke="#767676" stroke-width="0.8"/>
<circle cx="543.6" cy="194.8" r="12.8" fill="#747474"/>
<circle cx="543.4" cy="194.8" r="12.0" fill="#a6a6a6" stroke="#bcbcbc" stroke-width="0.9"/>
<text x="303.5" y="198.6" font-family="Liberation Sans, sans-serif" font-weight="bold" font-size="11" textLength="35.5" lengthAdjust="spacingAndGlyphs" fill="#c6c6c6" opacity="0.28" filter="url(#blur0)">PB5mm</text>
<text x="173" y="233" font-family="Liberation Sans, sans-serif" font-weight="bold" font-size="7.5" textLength="27" lengthAdjust="spacingAndGlyphs" fill="#c6c6c6" opacity="0.28" filter="url(#blur0)">IC chip</text>
<text x="245" y="233" font-family="Liberation Sans, sans-serif" font-weight="bold" font-size="7.5" textLength="30" lengthAdjust="spacingAndGlyphs" fill="#c6c6c6" opacity="0.28" filter="url(#blur0)">HD chip</text>
<text x="326" y="233" font-family="Liberation Sans, sans-serif" font-weight="bold" font-size="7.5" textLength="28" lengthAdjust="spacingAndGlyphs" fill="#c6c6c6" opacity="0.31" filter="url(#blur0)">Screw</text>
<text x="424.7" y="208" font-family="Liberation Sans, sans-serif" font-weight="bold" font-size="9" textLength="37" lengthAdjust="spacingAndGlyphs" fill="#c6c6c6" opacity="0.24" filter="url(#blur0)">TOOLS</text>
<text x="416.4" y="217.5" font-family="Liberation Sans, sans-serif" font-weight="bold" font-size="8" textLength="49" lengthAdjust="spacingAndGlyphs" fill="#c6c6c6" opacity="0.24" filter="url(#blur0)">STORAGE</text>
<text x="392" y="190" font-family="Liberation Sans, sans-serif" font-weight="bold" font-size="4.5" textLength="12" lengthAdjust="spacingAndGlyphs" fill="#c6c6c6" opacity="0.25" filter="url(#blur0)">PCB</text>
<text x="392" y="194.6" font-family="Liberation Sans, sans-serif" font-weight="bold" font-size="4.5" textLength="15" lengthAdjust="spacingAndGlyphs" fill="#c6c6c6" opacity="0.25" filter="url(#blur0)">holder</text>
<text x="529" y="251.5" font-family="Liberation Sans, sans-serif" font-weight="bold" font-size="8" textLength="31" lengthAdjust="spacingAndGlyphs" fill="#c6c6c6" opacity="0.23" filter="url(#blur0)">SCREW</text>
<text x="536" y="298" font-family="Liberation Sans, sans-serif" font-weight="bold" font-size="5.5" textLength="22" lengthAdjust="spacingAndGlyphs" fill="#c6c6c6" opacity="0.19" filter="url(#blur0)">MAG</text>
<text x="530" y="305.5" font-family="Liberation Sans, sans-serif" font-weight="bold" font-size="6.5" textLength="28" lengthAdjust="spacingAndGlyphs" fill="#c6c6c6" opacity="0.19" filter="url(#blur0)">NETIC</text>
<text x="529" y="332.5" font-family="Liberation Sans, sans-serif" font-weight="bold" font-size="7.5" textLength="30" lengthAdjust="spacingAndGlyphs" fill="#c6c6c6" opacity="0.21" filter="url(#blur0)">SCREW</text>
<text x="536" y="354" font-family="Liberation Sans, sans-serif" font-weight="bold" font-size="5.5" textLength="22" lengthAdjust="spacingAndGlyphs" fill="#c6c6c6" opacity="0.19" filter="url(#blur0)">MAG</text>
<text x="530" y="361.5" font-family="Liberation Sans, sans-serif" font-weight="bold" font-size="6.5" textLength="28" lengthAdjust="spacingAndGlyphs" fill="#c6c6c6" opacity="0.19" filter="url(#blur0)">NETIC</text>
<text x="529" y="389.5" font-family="Liberation Sans, sans-serif" font-weight="bold" font-size="7.5" textLength="30" lengthAdjust="spacingAndGlyphs" fill="#c6c6c6" opacity="0.21" filter="url(#blur0)">SCREW</text>
<text x="529" y="430.5" font-family="Liberation Sans, sans-serif" font-weight="bold" font-size="7" textLength="30" lengthAdjust="spacingAndGlyphs" fill="#c6c6c6" opacity="0.21" filter="url(#blur0)">SCREW</text>
<path d="M190.2,370 V497" fill="none" stroke="#303030" stroke-width="1.25" stroke-dasharray="4.2 2.7"/>
<circle cx="190.2" cy="370" r="3.1" fill="#0a0a0a"/>
<path d="M255.4,441 V567" fill="none" stroke="#303030" stroke-width="1.25" stroke-dasharray="4.2 2.7"/>
<circle cx="255.4" cy="441" r="3.1" fill="#0a0a0a"/>
<path d="M362.8,239 V482" fill="none" stroke="#303030" stroke-width="1.25" stroke-dasharray="4.2 2.7"/>
<circle cx="362.8" cy="239" r="3.1" fill="#0a0a0a"/>
<path d="M504.7,383.5 V521" fill="none" stroke="#303030" stroke-width="1.25" stroke-dasharray="4.2 2.7"/>
<circle cx="504.7" cy="383.5" r="3.1" fill="#0a0a0a"/>
<path d="M555,196 H589.3 V559" fill="none" stroke="#303030" stroke-width="1.25" stroke-dasharray="4.2 2.7"/>
<path d="M560.3,310 H589.3" fill="none" stroke="#303030" stroke-width="1.25" stroke-dasharray="4.2 2.7"/>
<path d="M560.3,366.6 H589.3" fill="none" stroke="#303030" stroke-width="1.25" stroke-dasharray="4.2 2.7"/>
<circle cx="555" cy="196" r="3.1" fill="#0a0a0a"/>
<circle cx="560.3" cy="310" r="3.1" fill="#0a0a0a"/>
<circle cx="560.3" cy="366.6" r="3.1" fill="#0a0a0a"/>
<text x="262.6" y="81.9" font-family="Liberation Sans, sans-serif" font-size="16.2" textLength="62" lengthAdjust="spacingAndGlyphs" fill="#141414" stroke="#141414" stroke-width="0.55">453MM</text>
<text x="340.6" y="81.9" font-family="Liberation Sans, sans-serif" font-size="16.2" textLength="63" lengthAdjust="spacingAndGlyphs" fill="#141414" stroke="#141414" stroke-width="0.55">17.83IN</text>
<path d="M337.3,69.2 Q332.6,76.30000000000001 337.3,83.4" fill="none" stroke="#141414" stroke-width="1.7" stroke-linecap="round"/>
<path d="M407.7,69.2 Q413.4,76.30000000000001 407.7,83.4" fill="none" stroke="#141414" stroke-width="1.7" stroke-linecap="round"/>
<text x="15.0" y="319.5" font-family="Liberation Sans, sans-serif" font-size="16.2" textLength="61.6" lengthAdjust="spacingAndGlyphs" fill="#141414" stroke="#141414" stroke-width="0.55">300MM</text>
<text x="22.2" y="339.5" font-family="Liberation Sans, sans-serif" font-size="16.2" textLength="45.2" lengthAdjust="spacingAndGlyphs" fill="#141414" stroke="#141414" stroke-width="0.55">11.8N</text>
<path d="M18.2,326.6 Q14.2,333.6 18.2,340.6" fill="none" stroke="#141414" stroke-width="1.7" stroke-linecap="round"/>
<path d="M74.0,326.6 Q77.9,333.6 74.0,340.6" fill="none" stroke="#141414" stroke-width="1.7" stroke-linecap="round"/>
<text x="148.3" y="516" font-family="Liberation Sans, sans-serif" font-size="16.2" textLength="83.1" lengthAdjust="spacingAndGlyphs" fill="#141414" stroke="#141414" stroke-width="0.55">Work Area</text>
<text x="210.8" y="587.4" font-family="Liberation Sans, sans-serif" font-size="16.2" textLength="90.2" lengthAdjust="spacingAndGlyphs" fill="#141414" stroke="#141414" stroke-width="0.55">Scale Ruler</text>
<text x="328.4" y="501" font-family="Liberation Sans, sans-serif" font-size="16.2" textLength="77.2" lengthAdjust="spacingAndGlyphs" fill="#141414" stroke="#141414" stroke-width="0.55">Parts Box</text>
<text x="363.4" y="541.4" font-family="Liberation Sans, sans-serif" font-size="16.2" textLength="182.2" lengthAdjust="spacingAndGlyphs" fill="#141414" stroke="#141414" stroke-width="0.55">Screwdriver Organizer</text>
<text x="514.6" y="578" font-family="Liberation Sans, sans-serif" font-size="16.2" textLength="114" lengthAdjust="spacingAndGlyphs" fill="#141414" stroke="#141414" stroke-width="0.55">Magnetic Grid</text>
</svg>
</body></html>
